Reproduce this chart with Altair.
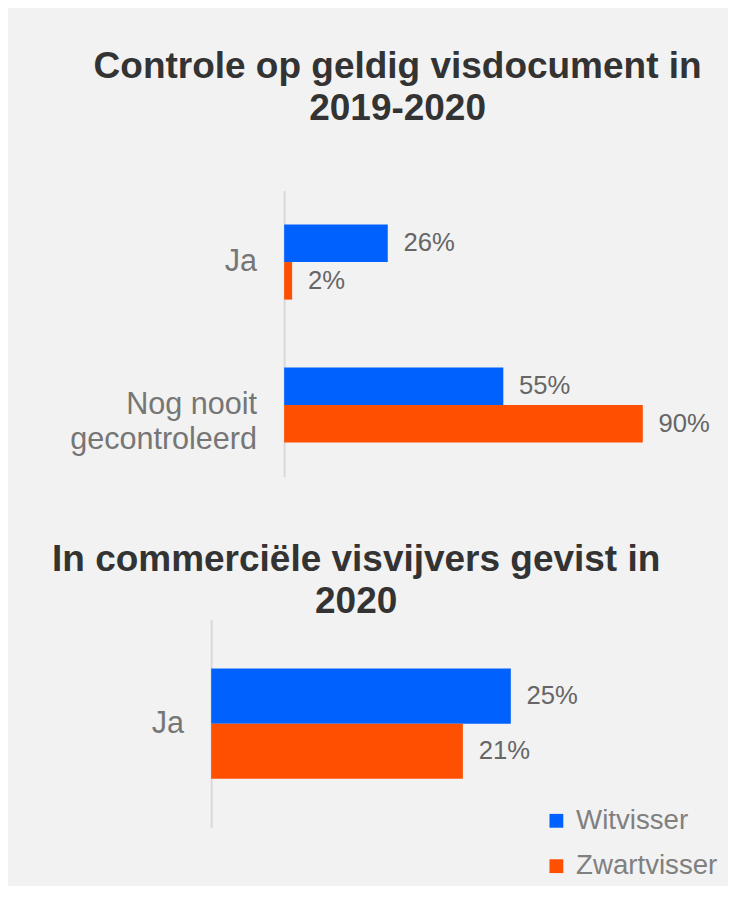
import altair as alt
import pandas as pd

# ---- data ----
series = ["Witvisser", "Zwartvisser"]
colors = ["#0061FE", "#FE5000"]

cats1 = ["Ja", "Nog nooit gecontroleerd"]
wit1 = [26, 55]
zwart1 = [2, 90]

cats2 = ["Ja"]
wit2 = [25]
zwart2 = [21]

title1 = ["Controle op geldig visdocument in", "2019-2020"]
title2 = ["In commerciële visvijvers gevist in", "2020"]

FONT = "Liberation Sans"


def make_df(cats, wit, zwart):
    rows = []
    for c, w, z in zip(cats, wit, zwart):
        rows.append({"cat": c, "series": series[0], "value": w})
        rows.append({"cat": c, "series": series[1], "value": z})
    return pd.DataFrame(rows)


def panel(df, cats, xscale, width, height, title, tdx, toffset, legend, axis_offset, pin):
    base = alt.Chart(df).transform_calculate(
        label="datum.value + '%'"
    ).encode(
        y=alt.Y(
            "cat:N",
            sort=cats,
            scale=alt.Scale(paddingInner=pin, paddingOuter=pin / 2),
            axis=alt.Axis(
                title=None,
                ticks=False,
                grid=False,
                offset=axis_offset,
                domainColor="#d9d9d9",
                domainWidth=2,
                labelFont=FONT,
                labelFontSize=31,
                labelColor="#767676",
                labelPadding=28,
                labelLimit=0,
                labelLineHeight=36,
                labelExpr="datum.label == 'Nog nooit gecontroleerd' ? ['Nog nooit', 'gecontroleerd'] : datum.label",
            ),
        ),
        yOffset=alt.YOffset("series:N", sort=series,
                            scale=alt.Scale(paddingInner=0, paddingOuter=0)),
        x=alt.X("value:Q", scale=xscale, axis=None),
    )
    bars = base.mark_bar().encode(
        color=alt.Color("series:N", sort=series,
                        scale=alt.Scale(domain=series, range=colors),
                        legend=legend)
    )
    text = base.mark_text(align="left", baseline="middle", dx=16, font=FONT,
                          fontSize=26, color="#666666").encode(text="label:N")
    return alt.layer(bars, text).properties(
        width=width,
        height=height,
        title=alt.TitleParams(
            text=title, font=FONT, fontSize=37.5, fontWeight="bold",
            color="#333333", anchor="middle", frame="group",
            dx=tdx, offset=toffset, lineHeight=43,
        ),
    )


legend2 = alt.Legend(
    title=None, orient="none", legendX=262, legendY=190, padding=0,
    symbolType="square", symbolSize=196, symbolStrokeWidth=0,
    labelFont=FONT, labelFontSize=28, labelColor="#808080",
    labelOffset=6, rowPadding=18,
)

c1 = panel(make_df(cats1, wit1, zwart1), cats1,
           alt.Scale(domain=[0, 100]), 404, 290, title1, -87, 64, None, 0, 0.475)
c2 = panel(make_df(cats2, wit2, zwart2), cats2,
           alt.Scale(domain=[0, 33], range=[-74, 327]), 404, 211, title2, -129, -1,
           legend2, 74, 0.47)

chart = alt.concat(c1, c2, columns=1, spacing=65).resolve_scale(
    x="independent", y="independent", yOffset="independent", color="independent"
).resolve_legend(color="independent").properties(
    background="#f2f2f2",
    padding={"left": 44, "top": 34, "right": 10, "bottom": 0},
).configure_view(stroke=None)

chart.save("out.html", embed_options={"renderer": "svg", "actions": False})
